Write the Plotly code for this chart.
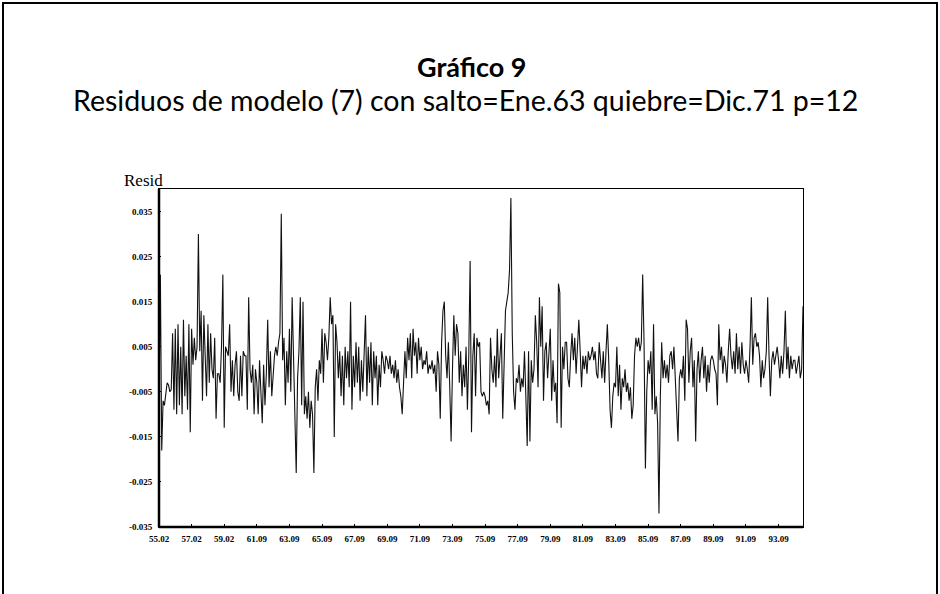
import plotly.graph_objects as go

# Residuals in thousandths (value * 1000), monthly from 55.02
resid_milli = [
    -8, 21, -18, -7, -8, -5, -3, -3.5, -5, -4.5, 8, -9,
    9, -10, 10, -8, 5, -10, 11, -6, 3, -9, 10, -14,
    9, 1, 7, 2, 5, 30, 4, 13, -7, 12, 2, -6,
    10, -3, 8, 0, -2, 7, -11, -1, -1, -3, 5, 21,
    -13, 5, 4, 3, 10, -5, 2, -6, 1, 4, -5, -7,
    3, -6, 4, 3, 3, -9, 16, 0, -3, 1, -10, 0,
    -3, -10, 2, -4, -12, 1, -8, -1, 11, -4, 4, -6,
    0, 3, 5, 3, 6, 8, 34.5, 2, 7, -8, 4, -3,
    9, -5, 16, 2, -16, -23, -2, 4, 16, -8, 15, -10,
    -6, -11, -5, -13, -7, -10, -23, -4, 0, -7, 2, -1,
    9, -3, 8, 6, 2, 7, 16, 10, 12, -15, 10, 6,
    -2, 4, -6, 3, -8, 5, -2, 4, -4, 15, -9, 3,
    -4, 6, -3, 5, -7, 2, -5, 4, 12, -6, 5, -3,
    6, -8, 4, -2, 3, -8, 1, -4, 4, 2, -1, 3,
    2, 0, 3, -1, 1, -2, 2, -3, 0, -4, -6, -10,
    -4, 4, -2, 7, 2, 8, -2, 9, 3, 6, -1, 7,
    2, 5, 0, 2, 1, 4, -1, 1, 0, 2, -1, 1,
    -5, 4, 1, -11, 6, 13, 15, 3, -2, 6, -4, -16,
    0, 12, 3, 10, 8, -3, 4, -6, 1, -4, 5, -9,
    3, 24, -14, 3, 8, -6, 7, 5, 6, -5, -6, -5,
    -6, -8, -7, -10, 7, 0, -3, 3, -4, 9, -2, 4,
    8, -11, 2, 13, 15, 17, 22, 38, 8, -5, -9, -2,
    -3, 1, -5, -2, -4, 4, -6, -17, 4, -16, 2, -3,
    0, 12, 6, -4, 16, 5, 14, -7, 4, 6, -2, 3,
    9, -7, 2, -5, -3, -12, 19, 17, -13, 5, 0, 6,
    6, -2, -4, 3, 8, 2, 7, -1, 5, 11, 4, -4,
    3, 0, 3, -1, 4, 2, 3, 5, 2, 4, -1, -2,
    6, 1, -2, 4, -3, 4, 10, 2, -9, -13, -6, -3,
    -4, 5, -6, 1, -9, -2, -4, 0, -5, -3, -7, -4,
    -11, -8, 3, 7, 5, 7, 4, 6, 21, 6, -22, -5,
    2, -1, 4, -9, 10, -10, -6, -12, -32, -6, 6, -2,
    2, -2, 1, -3, 3, 4, 0, 5, -3, -8, -16, -2,
    0, -2, 3, -7, 11, 9, -3, 4, 7, -4, 2, -16,
    0, 4, -3, 2, 5, -2, 3, -5, 1, -3, 2, 3,
    2, 0, -1, -8, 10, 2, 5, -1, 3, 1, -3, 4,
    9, 3, 0, 4, -1, 8, 0, 5, -1, 6, 1, -1,
    2, 0, -3, 5, 16, 1, 7, 8, 5, 6, 3, -4,
    2, -2, 0, 4, 16, 3, -6, 2, 4, 1, 3, 5,
    2, -2, 3, -1, 4, 13, 0, 5, -2, 3, 0, 2,
    2, -1, 1, 3, -2, 0, 14,
]

x_tick_labels = ["55.02", "57.02", "59.02", "61.09", "63.09", "65.09", "67.09",
                 "69.09", "71.09", "73.09", "75.09", "77.09", "79.09", "81.09",
                 "83.09", "85.09", "87.09", "89.09", "91.09", "93.09"]
y_tick_values = [-0.035, -0.025, -0.015, -0.005, 0.005, 0.015, 0.025, 0.035]
y_tick_labels = ["-0.035", "-0.025", "-0.015", "-0.005", "0.005", "0.015", "0.025", "0.035"]
months_per_tick = 24

title_text = "Gráfico 9"
subtitle_text = "Residuos de modelo (7) con salto=Ene.63 quiebre=Dic.71 p=12"
y_label = "Resid"

resid = [v / 1000.0 for v in resid_milli]
x_idx = list(range(len(resid)))
tick_vals = [i * months_per_tick for i in range(len(x_tick_labels))]

fig = go.Figure()
fig.add_trace(go.Scatter(x=x_idx, y=resid, mode="lines",
                         line=dict(color="#111111", width=1.1), hoverinfo="skip"))

serif = "Liberation Serif, Times New Roman, serif"
sans = "Lato, Noto Sans, sans-serif"

fig.update_layout(
    width=940, height=594,
    margin=dict(l=159, r=137, t=189, b=67, autoexpand=False),
    paper_bgcolor="white", plot_bgcolor="white",
    showlegend=False,
    xaxis=dict(range=[0, len(resid) - 1], tickvals=tick_vals, ticktext=x_tick_labels,
               showgrid=False, zeroline=False, showline=True, mirror=True,
               linecolor="black", linewidth=1, ticks="inside", ticklen=3,
               tickcolor="black", ticklabelstandoff=3,
               tickfont=dict(family=serif, size=9, color="black", weight="bold")),
    yaxis=dict(range=[-0.035, 0.040], tickvals=y_tick_values, ticktext=y_tick_labels,
               showgrid=False, zeroline=False, showline=True, mirror=True,
               linecolor="black", linewidth=1, ticks="inside", ticklen=2,
               tickcolor="black", ticklabelstandoff=4,
               tickfont=dict(family=serif, size=9, color="black", weight="bold")),
    shapes=[
        dict(type="line", xref="paper", yref="paper", x0=0, x1=0, y0=0, y1=1,
             line=dict(color="black", width=2.5)),
        dict(type="line", xref="paper", yref="paper", x0=0, x1=1, y0=0, y1=0,
             line=dict(color="black", width=2.5)),
        dict(type="rect", xref="paper", yref="paper",
             x0=(3 - 159) / 644, x1=(937 - 159) / 644,
             y0=(527 - 620) / 338, y1=(527 - 3) / 338,
             line=dict(color="black", width=2)),
    ],
    annotations=[
        dict(text="<b>" + title_text + "</b>", xref="paper", yref="paper",
             x=(471 - 159) / 644, y=(527 - 66) / 338, showarrow=False,
             xanchor="center", yanchor="middle",
             font=dict(family=sans, size=27, color="black")),
        dict(text=subtitle_text, xref="paper", yref="paper",
             x=(465 - 159) / 644, y=(527 - 100) / 338, showarrow=False,
             xanchor="center", yanchor="middle",
             font=dict(family=sans, size=28.5, color="black")),
        dict(text=y_label, xref="paper", yref="paper",
             x=(122 - 159) / 644, y=(527 - 180) / 338, showarrow=False,
             xanchor="left", yanchor="middle",
             font=dict(family=serif, size=17, color="black")),
    ],
)

fig.write_html("out.html")
